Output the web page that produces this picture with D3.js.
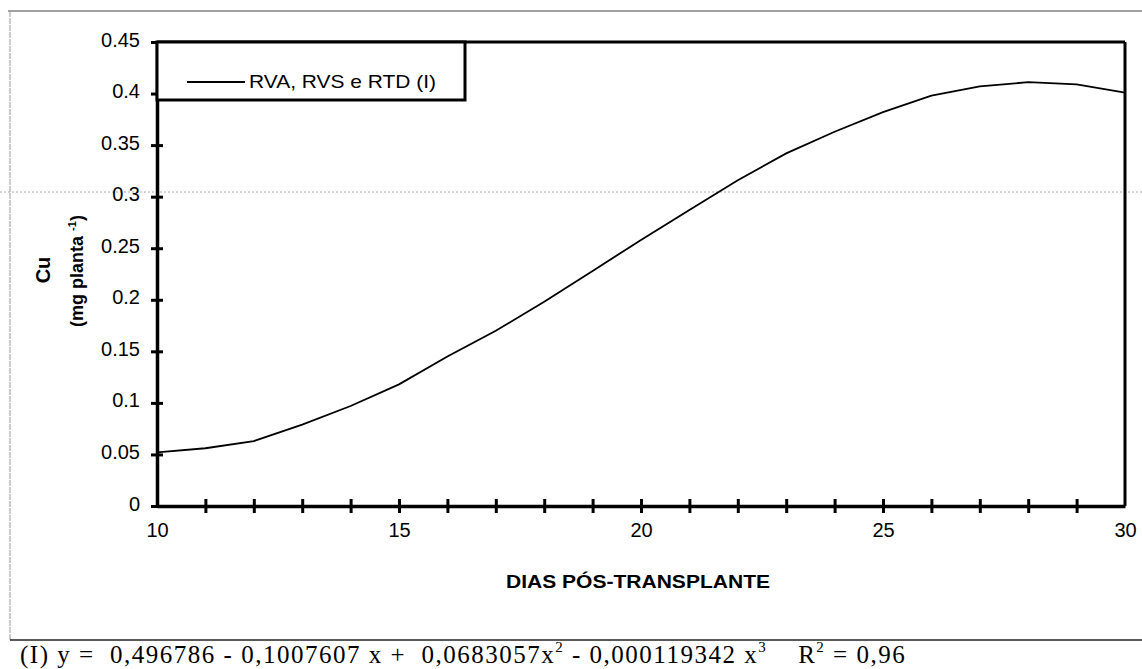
<!DOCTYPE html>
<html>
<head>
<meta charset="utf-8">
<script src="https://cdn.jsdelivr.net/npm/d3@7"></script>
<style>
  body { margin: 0; background: #fff; }
</style>
</head>
<body>
<div id="chart"></div>
<script>
// data
const days = [10, 11, 12, 13, 14, 15, 16, 17, 18, 19, 20, 21, 22, 23, 24, 25, 26, 27, 28, 29, 30];
const cuValues = [0.052, 0.056, 0.063, 0.079, 0.097, 0.118, 0.145, 0.170, 0.198, 0.228, 0.258,
                  0.287, 0.316, 0.342, 0.363, 0.382, 0.398, 0.407, 0.411, 0.409, 0.401];
const xTickLabels = [10, 15, 20, 25, 30];
const yTickValues = [0, 0.05, 0.1, 0.15, 0.2, 0.25, 0.3, 0.35, 0.4, 0.45];
const seriesName = "RVA, RVS e RTD (I)";

const sans = "Arial, 'Liberation Sans', sans-serif";
const serif = "'Liberation Serif', 'Times New Roman', serif";

const W = 1142, H = 669;
const margin = { left: 157, right: 17, top: 42, bottom: 163 };
const width = W - margin.left - margin.right;
const height = H - margin.top - margin.bottom;

const svg = d3.select("#chart").append("svg")
  .attr("width", W)
  .attr("height", H)
  .style("font-family", sans);

// scan frame lines
svg.append("line").attr("x1", 8).attr("x2", W).attr("y1", 11).attr("y2", 11)
  .attr("stroke", "#444").attr("stroke-width", 1.2);
svg.append("line").attr("x1", 10).attr("x2", 10).attr("y1", 11).attr("y2", 640)
  .attr("stroke", "#999").attr("stroke-width", 1).attr("stroke-dasharray", "6,1");
svg.append("line").attr("x1", 10).attr("x2", W).attr("y1", 640).attr("y2", 640)
  .attr("stroke", "#222").attr("stroke-width", 1.3);
svg.append("line").attr("x1", 0).attr("x2", W).attr("y1", 192).attr("y2", 192)
  .attr("stroke", "#aaa").attr("stroke-width", 1).attr("stroke-dasharray", "2,2");

const x = d3.scaleLinear().domain([10, 30]).range([0, width]);
const y = d3.scaleLinear().domain([0, 0.45]).range([height, 0]);

const g = svg.append("g")
  .attr("transform", `translate(${margin.left},${margin.top})`);

// curve
const line = d3.line()
  .x((d, i) => x(days[i]))
  .y(d => y(d));

g.append("path")
  .datum(cuValues)
  .attr("fill", "none")
  .attr("stroke", "#000")
  .attr("stroke-width", 1.8)
  .attr("d", line);

// top and right frame of the plot
g.append("line").attr("x1", 0).attr("x2", width).attr("y1", 0).attr("y2", 0)
  .attr("stroke", "#000").attr("stroke-width", 3);
g.append("line").attr("x1", width).attr("x2", width).attr("y1", 0).attr("y2", height)
  .attr("stroke", "#000").attr("stroke-width", 3);

// x axis: tick every day, labels every 5
const xAxis = g.append("g")
  .attr("transform", `translate(0,${height})`)
  .call(d3.axisBottom(x).tickValues(days).tickSize(0).tickFormat(""));
xAxis.select(".domain").attr("stroke-width", 3.5);
xAxis.selectAll(".tick line").attr("y1", -7).attr("y2", 7).attr("stroke-width", 3);
xAxis.select(".tick:first-of-type line").remove();
xAxis.select(".tick:last-of-type line").remove();

g.append("g")
  .attr("transform", `translate(0,${height})`)
  .call(d3.axisBottom(x).tickValues(xTickLabels).tickSize(0).tickPadding(17).tickFormat(d3.format("d")))
  .call(a => a.select(".domain").remove())
  .selectAll("text")
  .style("font-size", "20px")
  .style("font-family", sans);

// y axis
const yAxis = g.append("g")
  .call(d3.axisLeft(y).tickValues(yTickValues).tickSize(0).tickPadding(17)
    .tickFormat(d => d === 0 ? "0" : String(d)));
yAxis.select(".domain").attr("stroke-width", 3.5);
yAxis.selectAll(".tick text")
  .attr("dy", "0.2em")
  .style("font-size", "20px")
  .style("font-family", sans);
yAxis.selectAll(".tick").append("line")
  .attr("x1", -6).attr("x2", 6)
  .attr("stroke", "#000").attr("stroke-width", 3);

// legend box
const legend = g.append("g");
legend.append("rect")
  .attr("x", 0).attr("y", 0)
  .attr("width", 308).attr("height", 58)
  .attr("fill", "#fff").attr("stroke", "#000").attr("stroke-width", 3);
legend.append("line")
  .attr("x1", 30).attr("x2", 88).attr("y1", 40).attr("y2", 40)
  .attr("stroke", "#000").attr("stroke-width", 1.8);
legend.append("text")
  .attr("x", 92).attr("y", 46)
  .style("font-size", "19px")
  .attr("textLength", 187)
  .attr("lengthAdjust", "spacingAndGlyphs")
  .text(seriesName);

// axis titles
svg.append("text")
  .attr("transform", "translate(50,270) rotate(-90)")
  .attr("text-anchor", "middle")
  .style("font-size", "20px").style("font-weight", "bold")
  .text("Cu");
const yt = svg.append("text")
  .attr("transform", "translate(83,271) rotate(-90)")
  .attr("text-anchor", "middle")
  .style("font-size", "18px").style("font-weight", "bold");
yt.append("tspan").text("(mg planta ");
yt.append("tspan").style("font-size", "11px").attr("dy", -7).text("-1");
yt.append("tspan").attr("dy", 7).text(")");

svg.append("text")
  .attr("x", 506).attr("y", 588)
  .style("font-size", "18px").style("font-weight", "bold")
  .attr("textLength", 264)
  .attr("lengthAdjust", "spacingAndGlyphs")
  .text("DIAS PÓS-TRANSPLANTE");

// regression equation
const eq = svg.append("text")
  .attr("x", 20).attr("y", 663)
  .style("font-family", serif)
  .style("font-size", "25px")
  .style("letter-spacing", "1.5px")
  .style("white-space", "pre");
eq.append("tspan").text("(I) y =  0,496786 - 0,1007607 x +  0,0683057x");
eq.append("tspan").style("font-size", "15px").attr("dy", -11).text("2");
eq.append("tspan").attr("dy", 11).text(" - 0,000119342 x");
eq.append("tspan").style("font-size", "15px").attr("dy", -11).text("3");
eq.append("tspan").attr("dy", 11).text("    R");
eq.append("tspan").style("font-size", "15px").attr("dy", -11).text("2");
eq.append("tspan").attr("dy", 11).text(" = 0,96");
</script>
</body>
</html>
